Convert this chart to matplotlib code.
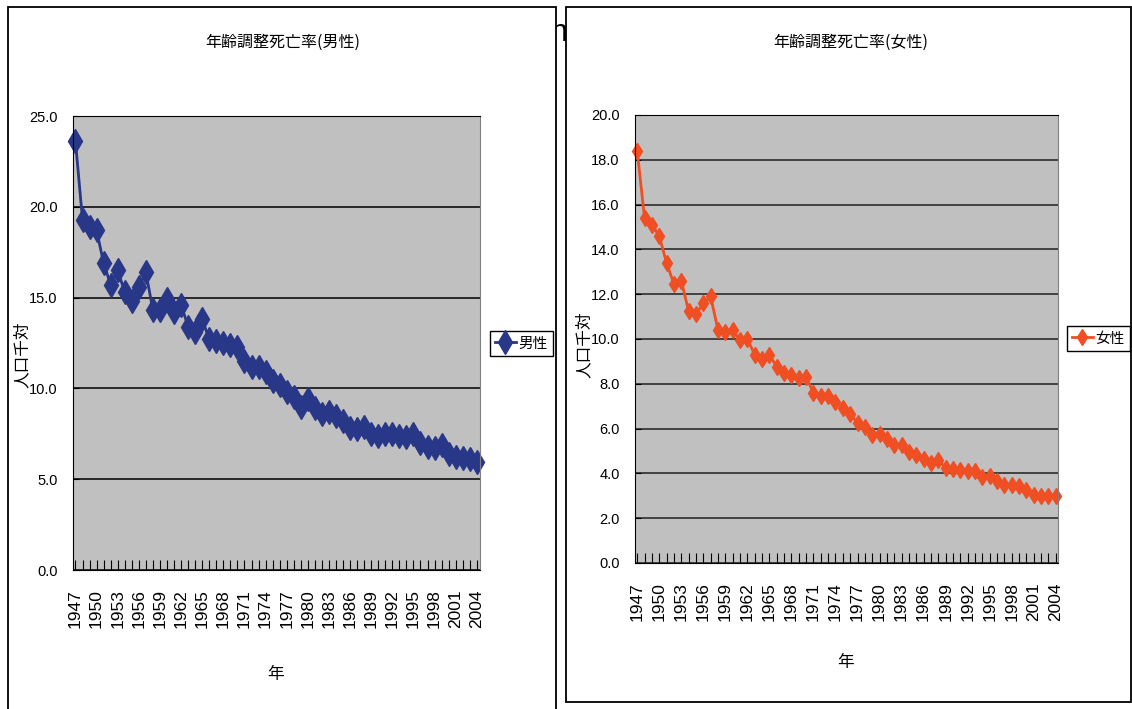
import matplotlib
matplotlib.use('Agg')
import matplotlib.pyplot as plt
from matplotlib import font_manager
from matplotlib.patches import Rectangle

# age-adjusted death rate (per 1000), 1947-2004
years = list(range(1947, 2005))
male = [23.6, 19.3, 18.9, 18.7, 16.9, 15.7, 16.5, 15.3, 14.8, 15.6,
        16.4, 14.3, 14.3, 14.9, 14.2, 14.6, 13.4, 13.1, 13.8, 12.7,
        12.6, 12.5, 12.4, 12.3, 11.5, 11.2, 11.2, 10.9, 10.4, 10.2,
        9.8, 9.5, 9.0, 9.4, 8.9, 8.6, 8.7, 8.5, 8.2, 7.8,
        7.75, 7.9, 7.5, 7.4, 7.5, 7.5, 7.4, 7.3, 7.5, 7.0,
        6.8, 6.7, 6.9, 6.4, 6.2, 6.15, 6.1, 5.95]
female = [18.4, 15.4, 15.1, 14.6, 13.4, 12.45, 12.6, 11.25, 11.1, 11.6,
          11.9, 10.4, 10.3, 10.4, 9.95, 10.0, 9.3, 9.1, 9.3, 8.75,
          8.5, 8.4, 8.25, 8.3, 7.6, 7.45, 7.45, 7.2, 6.9, 6.65,
          6.25, 6.05, 5.7, 5.75, 5.55, 5.25, 5.25, 4.95, 4.8, 4.65,
          4.45, 4.6, 4.25, 4.2, 4.15, 4.1, 4.1, 3.85, 3.9, 3.65,
          3.5, 3.5, 3.45, 3.25, 3.05, 3.0, 3.0, 3.0]
label_years = list(range(1947, 2005, 3))

title_m = '年齢調整死亡率(男性)'
title_f = '年齢調整死亡率(女性)'
ylab = '人口千対'
xlab = '年'

cjk = ['Noto Sans CJK JP', 'DejaVu Sans']
names = {f.name for f in font_manager.fontManager.ttflist}
narrow = 'Liberation Sans Narrow' if 'Liberation Sans Narrow' in names else 'Liberation Sans'

W, H = 1132, 709
fig = plt.figure(figsize=(W / 100, H / 100), dpi=100)


def fx(px):
    return px / W


def fy(py):
    return 1 - py / H


# stray letter peeking between the two panels
fig.text(fx(559), fy(33), 'n', fontsize=22, family='Liberation Sans',
         ha='center', va='center', zorder=0.5)

# panel frames
fig.patches.append(Rectangle((fx(8), fy(720)), fx(556 - 8), fy(7) - fy(720),
                             transform=fig.transFigure, facecolor='white',
                             edgecolor='black', lw=1.3, zorder=0.8))
fig.patches.append(Rectangle((fx(566), fy(702)), fx(1131 - 566), fy(7) - fy(702),
                             transform=fig.transFigure, facecolor='white',
                             edgecolor='black', lw=1.3, zorder=0.8))


def setup(ax, ymax, ystep, xr, gridc):
    ax.set_zorder(1)
    ax.set_facecolor('#C0C0C0')
    ax.set_xlim(*xr)
    ax.set_ylim(0, ymax)
    ax.set_yticks([i * ystep for i in range(int(ymax / ystep) + 1)])
    ax.set_yticklabels(['%.1f' % v for v in ax.get_yticks()],
                       family=narrow, fontsize=10.5)
    ax.yaxis.grid(True, color=gridc, lw=1.1)
    ax.set_axisbelow(True)
    ax.set_xticks(years, minor=True)
    ax.set_xticks(label_years)
    ax.set_xticklabels([str(y) for y in label_years], rotation=90,
                       family=narrow, fontsize=12.5)
    ax.tick_params(axis='x', which='both', direction='in', length=7,
                   width=0.8, pad=14)
    ax.tick_params(axis='y', direction='in', length=4, pad=11)
    for s in ['left', 'bottom', 'top']:
        ax.spines[s].set_color('black')
    ax.spines['right'].set_color('#808080')


# male
ax1 = fig.add_axes([fx(73), fy(570), fx(480 - 73), fy(116) - fy(570)])
setup(ax1, 25, 5, (1946.65, 2004.45), 'black')
l1, = ax1.plot(years, male, color='#283787', lw=2, marker='d',
               markersize=12, label='男性', clip_on=False)

# female
ax2 = fig.add_axes([fx(635), fy(563), fx(1058 - 635), fy(115) - fy(563)])
setup(ax2, 20, 2, (1946.7, 2004.3), '#202020')
l2, = ax2.plot(years, female, color='#F04E23', lw=2, marker='d',
               markersize=8, label='女性', clip_on=False)

fig.text(fx(283), fy(42), title_m, family=cjk, fontsize=11.5, ha='center', va='center')
fig.text(fx(851), fy(42), title_f, family=cjk, fontsize=11.5, ha='center', va='center')
fig.text(fx(22), fy(355), ylab, family=cjk, fontsize=12, rotation=90, ha='center', va='center')
fig.text(fx(584), fy(345), ylab, family=cjk, fontsize=12, rotation=90, ha='center', va='center')
fig.text(fx(276), fy(675), xlab, family=cjk, fontsize=12, ha='center', va='center')
fig.text(fx(846), fy(662), xlab, family=cjk, fontsize=12, ha='center', va='center')

for line, x0, yc in [(l1, 490, 343.5), (l2, 1067, 338.5)]:
    leg = fig.legend(handles=[line], loc='center left',
                     bbox_to_anchor=(fx(x0), fy(yc)), prop={'family': cjk, 'size': 10.5},
                     fancybox=False, edgecolor='black', framealpha=1,
                     borderpad=0.35, handlelength=1.4, handletextpad=0.2,
                     borderaxespad=0)
    leg.get_frame().set_linewidth(1)
    leg.set_zorder(5)

fig.savefig('out.png', dpi=100)
